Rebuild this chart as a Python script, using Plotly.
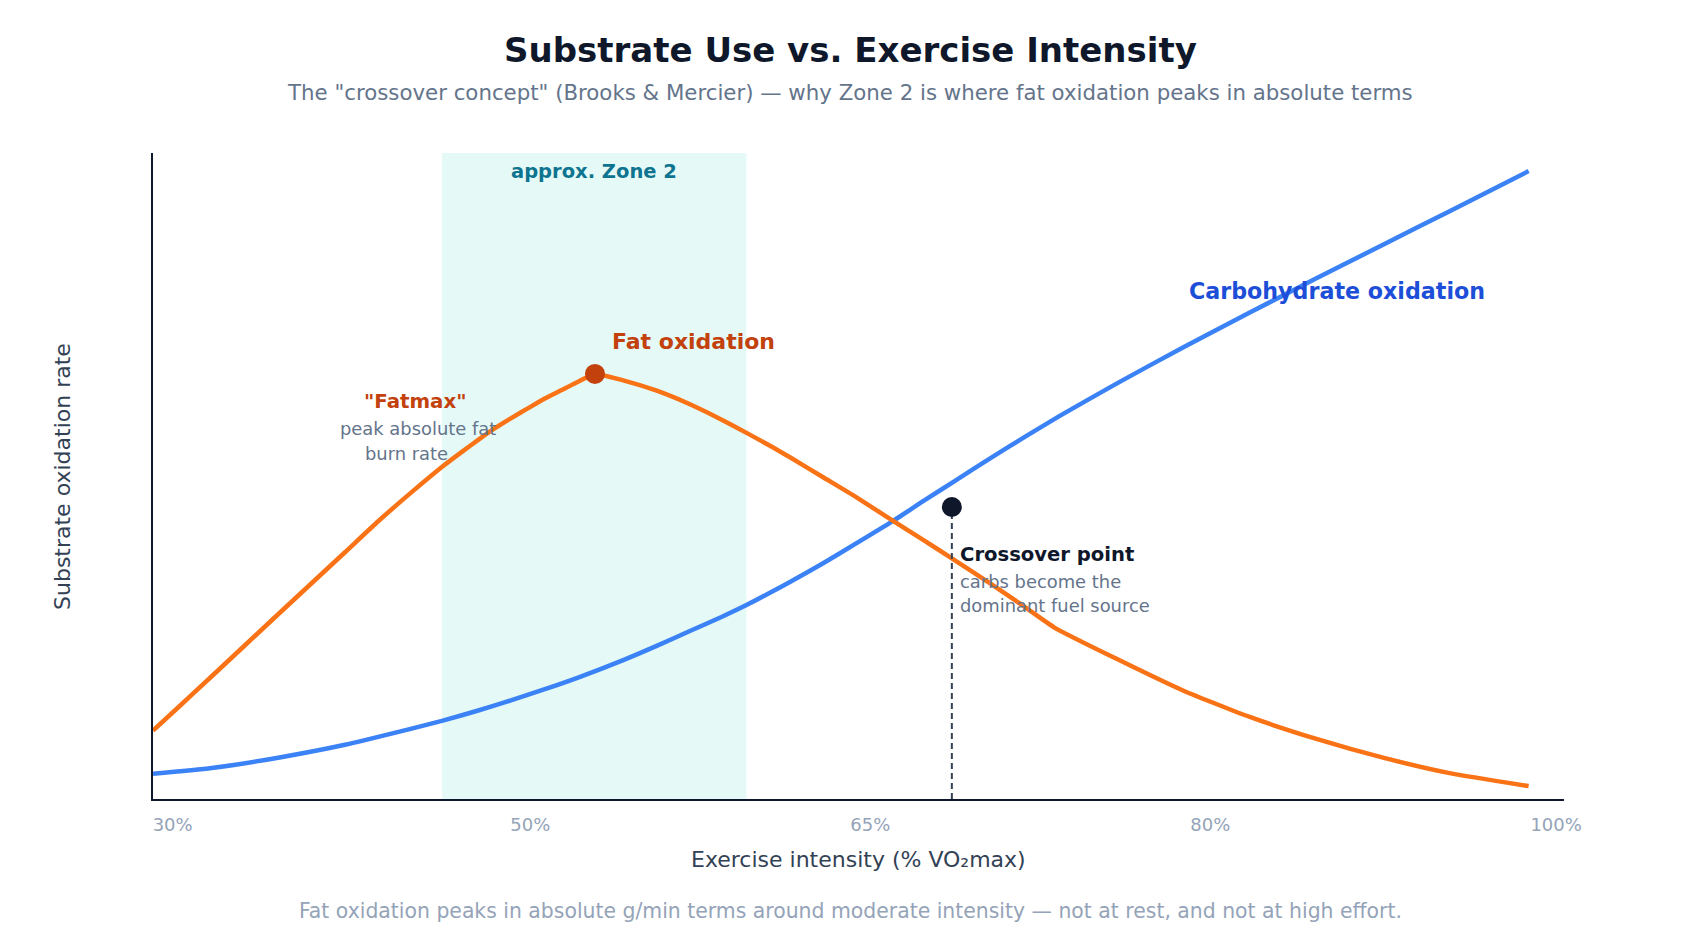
import plotly.graph_objects as go

# ---------------- data ----------------
fat_intensity = [30.00, 31.29, 32.99, 34.68, 36.37, 38.07, 39.77, 41.46, 43.16, 44.70, 45.70, 46.55,
                 47.40, 48.25, 49.09, 49.94, 50.79, 51.63, 52.49, 53.93, 55.63, 57.32, 59.01, 60.25,
                 61.56, 62.41, 64.10, 65.80, 67.58, 69.19, 70.63, 72.58, 74.28, 75.89, 79.03, 82.41,
                 85.81, 89.20, 92.59, 95.98, 100.00]
fat_oxidation = [0.106, 0.142, 0.190, 0.238, 0.286, 0.334, 0.382, 0.430, 0.475, 0.514, 0.537, 0.556,
                 0.574, 0.590, 0.605, 0.620, 0.633, 0.646, 0.658, 0.648, 0.632, 0.611, 0.586, 0.566,
                 0.544, 0.529, 0.498, 0.467, 0.432, 0.401, 0.373, 0.334, 0.299, 0.265, 0.217, 0.168,
                 0.127, 0.093, 0.064, 0.040, 0.020]

carb_intensity = [30.00, 32.99, 36.37, 39.77, 43.16, 44.70, 46.55, 48.25, 49.94, 51.63, 53.93, 55.63,
                  57.32, 59.01, 60.25, 61.56, 62.41, 64.10, 65.80, 67.58, 69.19, 70.89, 72.58, 74.28,
                  76.14, 79.03, 82.41, 85.81, 89.20, 92.59, 95.98, 100.00]
carb_oxidation = [0.039, 0.048, 0.064, 0.084, 0.109, 0.121, 0.137, 0.153, 0.170, 0.188, 0.215, 0.237,
                  0.260, 0.283, 0.301, 0.322, 0.336, 0.365, 0.396, 0.429, 0.461, 0.494, 0.527, 0.559,
                  0.593, 0.643, 0.699, 0.753, 0.806, 0.858, 0.910, 0.972]

zone2_range = [44.7, 60.2]
crossover_point = [70.65, 0.452]

tick_labels = ["30%", "50%", "65%", "80%", "100%"]
tick_positions = [31.0, 49.2, 66.5, 83.8, 101.4]

x_range = [30, 101.8]
y_range = [0, 1]

FONT = "DejaVu Sans"
ORANGE = "#f97316"
ORANGE_DARK = "#c2410c"
BLUE = "#3b82f6"
BLUE_DARK = "#1d4ed8"
NAVY = "#0f172a"
SLATE = "#64748b"
LIGHT = "#94a3b8"

fig = go.Figure()

# Zone 2 band
fig.add_shape(type="rect", xref="x", yref="paper", x0=zone2_range[0], x1=zone2_range[1],
              y0=0, y1=1, fillcolor="rgba(45,212,191,0.12)", line_width=0, layer="below")

fig.add_trace(go.Scatter(x=carb_intensity, y=carb_oxidation, mode="lines",
                         line=dict(color=BLUE, width=4.5, shape="spline", smoothing=0.6),
                         hoverinfo="skip", showlegend=False))
fig.add_trace(go.Scatter(x=fat_intensity, y=fat_oxidation, mode="lines",
                         line=dict(color=ORANGE, width=4.5, shape="spline", smoothing=0.5),
                         hoverinfo="skip", showlegend=False))

# dashed crossover line
fig.add_trace(go.Scatter(x=[crossover_point[0], crossover_point[0]], y=[0, crossover_point[1]],
                         mode="lines", line=dict(color="#334155", width=2, dash="6px,4px"),
                         hoverinfo="skip", showlegend=False))

# Fatmax dot (peak of the fat curve)
i_max = max(range(len(fat_oxidation)), key=lambda i: fat_oxidation[i])
fig.add_trace(go.Scatter(x=[fat_intensity[i_max]], y=[fat_oxidation[i_max]], mode="markers",
                         marker=dict(color=ORANGE_DARK, size=20, line_width=0),
                         hoverinfo="skip", showlegend=False))
# Crossover dot
fig.add_trace(go.Scatter(x=[crossover_point[0]], y=[crossover_point[1]], mode="markers",
                         marker=dict(color=NAVY, size=20, line_width=0),
                         hoverinfo="skip", showlegend=False))

ann = []
def txt(x, y, text, size, color, bold=False, xanchor="center", xref="x", yref="y", angle=0):
    ann.append(dict(x=x, y=y, xref=xref, yref=yref, text=("<b>%s</b>" % text) if bold else text,
                    showarrow=False, xanchor=xanchor, yanchor="middle", textangle=angle,
                    borderpad=0,
                    font=dict(family=FONT, size=size, color=color)))

PAGE_CENTER = 0.494  # page centre expressed in plot-area paper units

# titles (paper coords)
txt(PAGE_CENTER, 1.1596, "Substrate Use vs. Exercise Intensity", 34, NAVY, bold=True, xref="paper", yref="paper")
txt(PAGE_CENTER, 1.0944, 'The "crossover concept" (Brooks &amp; Mercier) — why Zone 2 is where fat oxidation peaks in absolute terms',
    21.3, SLATE, xref="paper", yref="paper")
txt(0.5, -0.0944, "Exercise intensity (% VO₂max)", 22, "#334155", xref="paper", yref="paper")
txt(-0.0645, 0.5, "Substrate oxidation rate", 22, "#334155", xref="paper", yref="paper", angle=-90)
txt(PAGE_CENTER, -0.173, "Fat oxidation peaks in absolute g/min terms around moderate intensity — not at rest, and not at high effort.",
    20.4, LIGHT, xref="paper", yref="paper")

# in-plot labels
txt(52.43, 0.9706, "approx. Zone 2", 19.5, "#0e7490", bold=True)
txt(53.33, 0.708, "Fat oxidation", 22, ORANGE_DARK, bold=True, xanchor="left")
txt(82.65, 0.787, "Carbohydrate oxidation", 22.2, BLUE_DARK, bold=True, xanchor="left")
txt(43.38, 0.6146, '"Fatmax"', 19.8, ORANGE_DARK, bold=True)
txt(43.48, 0.5728, "peak absolute fat", 17.9, SLATE)
txt(42.90, 0.5353, "burn rate", 17.9, SLATE)
txt(71.03, 0.379, "Crossover point", 19.6, NAVY, bold=True, xanchor="left")
txt(71.03, 0.336, "carbs become the", 17.9, SLATE, xanchor="left")
txt(71.03, 0.299, "dominant fuel source", 17.9, SLATE, xanchor="left")

fig.update_layout(
    width=1700, height=952,
    margin=dict(l=153, r=136, t=153, b=153, autoexpand=False),
    paper_bgcolor="white", plot_bgcolor="white",
    annotations=ann,
    font=dict(family=FONT),
    xaxis=dict(range=x_range, showgrid=False, zeroline=False, showline=True, linecolor=NAVY,
               linewidth=2, tickmode="array", tickvals=tick_positions, ticktext=tick_labels,
               ticks="", ticklabelstandoff=8, tickfont=dict(family=FONT, size=18, color=LIGHT),
               fixedrange=True),
    yaxis=dict(range=y_range, showgrid=False, zeroline=False, showline=True, linecolor=NAVY,
               linewidth=2, showticklabels=False, ticks="", fixedrange=True),
)

fig.write_html("out.html")
